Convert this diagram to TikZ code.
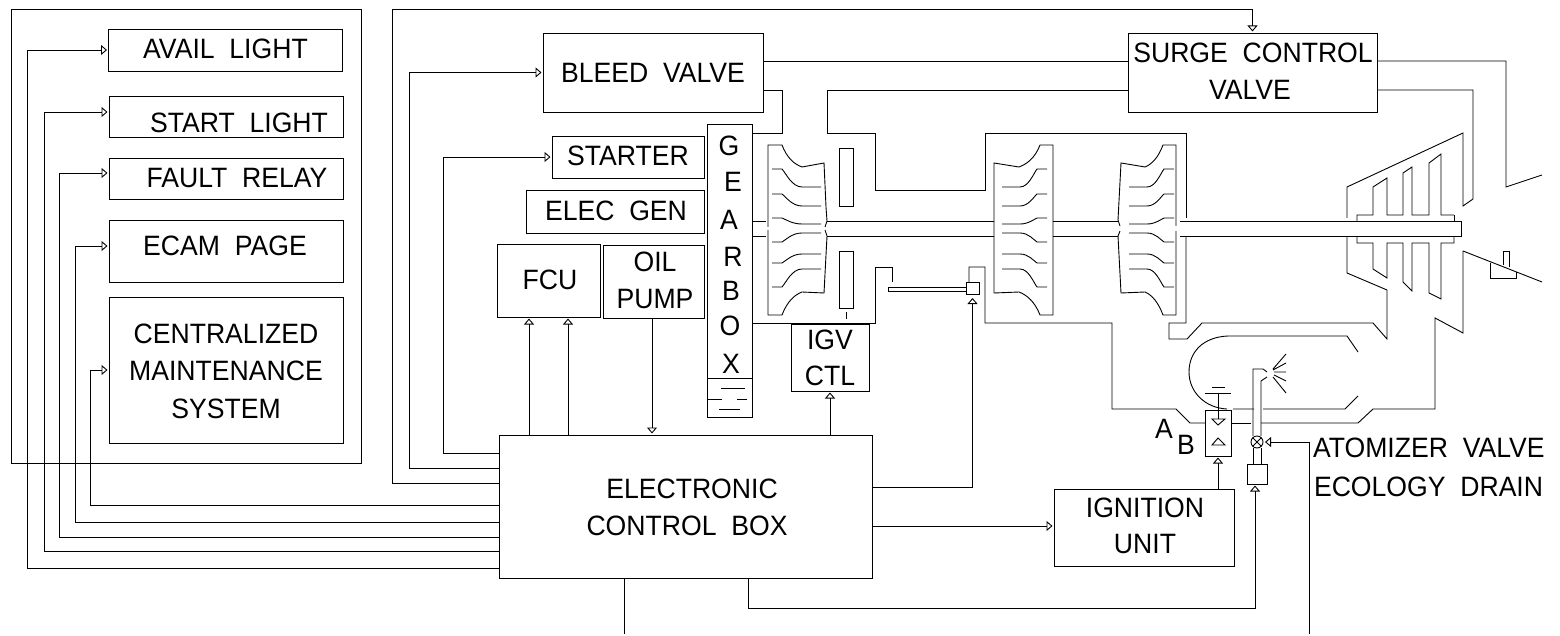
\documentclass[tikz,border=0pt]{standalone}
\usepackage{fontspec}
\setmainfont[FakeStretch=0.95]{Liberation Sans}
\usetikzlibrary{arrows.meta}
\tikzset{
  box/.style={draw,inner sep=0pt,outer sep=0pt},
  lab/.style={inner sep=0pt,outer sep=0pt,text height=20pt,text depth=0pt,font=\fontsize{28}{30}\selectfont},
  sig/.style={-{Triangle[open,length=6pt,width=10pt]},shorten >=1.5pt},
}
\begin{document}
\begin{tikzpicture}[x=1pt,y=-1pt,line width=0.9pt]
      \useasboundingbox (0,0) rectangle (1560,636);

      \node[box,minimum width=350,minimum height=454] (panel) at (186,236) {};
      \node[box,minimum width=234,minimum height=42] (avail) at (225.5,50) {};
      \node[box,minimum width=234,minimum height=41] (start) at (226,116.5) {};
      \node[box,minimum width=234,minimum height=41] (fault) at (226,178.5) {};
      \node[box,minimum width=234,minimum height=62] (ecam) at (226,251) {};
      \node[box,minimum width=234,minimum height=146] (cms) at (226,370) {};
      \node[box,minimum width=220,minimum height=79] (bleed) at (653,72.5) {};
      \node[box,minimum width=249,minimum height=79] (surge) at (1252.5,72.5) {};
      \node[box,minimum width=152,minimum height=42] (starter) at (628,157) {};
      \node[box,minimum width=178,minimum height=43] (elec) at (615,211.5) {};
      \node[box,minimum width=103,minimum height=73] (fcu) at (548.5,280.5) {};
      \node[box,minimum width=101,minimum height=73] (oil) at (653.5,281.5) {};
      \node[box,minimum width=45,minimum height=293] (gearbox) at (729.5,270.5) {};
      \node[box,minimum width=78,minimum height=67] (igv) at (830,357.5) {};
      \node[box,minimum width=373,minimum height=143] (ecb) at (685.5,506.5) {};
      \node[box,minimum width=180,minimum height=77] (ignition) at (1144,528) {};
      \node[box,minimum width=26,minimum height=46] (abbox) at (1218,433) {};
      \node[box,minimum width=20,minimum height=20] (drainbox) at (1257,474) {};
      \node[box,minimum width=13,minimum height=12] (act) at (972.5,288) {};
      \node[box,circle,minimum size=12] (valve) at (1257,442) {};

      \node[lab] (tavail) at (225.5,49) {AVAIL~~LIGHT};
      \node[lab] (tstart) at (239,123) {START~~LIGHT};
      \node[lab] (tfault) at (237,178) {FAULT~~RELAY};
      \node[lab] (tecam) at (225,246) {ECAM~~PAGE};
      \node[lab] (tcms) at (226,333) {CENTRALIZED};
      \node[lab] (tcmsb) at (226,370) {MAINTENANCE};
      \node[lab] (tcmsc) at (226,408) {SYSTEM};
      \node[lab] (tbleed) at (653,73) {BLEED~~VALVE};
      \node[lab] (tsurge) at (1253,53) {SURGE~~CONTROL};
      \node[lab] (tsurgeb) at (1250,90) {VALVE};
      \node[lab] (tstarter) at (628,156) {STARTER};
      \node[lab] (telec) at (616,211) {ELEC~~GEN};
      \node[lab] (tfcu) at (550,280) {FCU};
      \node[lab] (toil) at (655,262) {OIL};
      \node[lab] (toilb) at (655,298) {PUMP};
      \node[lab] (tg) at (729,146) {G};
      \node[lab] (te) at (733,182) {E};
      \node[lab] (ta) at (729,220) {A};
      \node[lab] (tr) at (733,256) {R};
      \node[lab] (tb) at (731,290) {B};
      \node[lab] (to) at (730,325) {O};
      \node[lab] (tx) at (731,363) {X};
      \node[lab] (tigv) at (830,339) {IGV};
      \node[lab] (tctl) at (830,375) {CTL};
      \node[lab] (tecb) at (692,488) {ELECTRONIC};
      \node[lab] (tecbb) at (687,525) {CONTROL~~BOX};
      \node[lab] (tign) at (1145,507) {IGNITION};
      \node[lab] (tignb) at (1145,543) {UNIT};
      \node[lab] (tatoma) at (1164,428) {A};
      \node[lab] (tatomb) at (1186,444) {B};
      \node[lab,anchor=west] (tatom) at (1313,447) {ATOMIZER~~VALVE};
      \node[lab,anchor=west] (tdrain) at (1314,486) {ECOLOGY~~DRAIN};

      \coordinate (oilend) at (624,634);
      \coordinate (atomend) at (1309,634);

      % outputs of the control box
      \draw[sig] (ecb.west |- 0,568) -| (27,50) -- (avail.west |- 0,50);
      \draw[sig] (ecb.west |- 0,551) -| (44,112) -- (start.west |- 0,112);
      \draw[sig] (ecb.west |- 0,537) -| (59,173) -- (fault.west |- 0,173);
      \draw[sig] (ecb.west |- 0,522) -| (75,246) -- (ecam.west |- 0,246);
      \draw[sig] (ecb.west |- 0,505) -| (90,370) -- (cms.west);
      \draw[sig] (ecb.west |- 0,483) -| (392,9) -| (surge.north);
      \draw[sig] (ecb.west |- 0,468) -| (409,72.5) -- (bleed.west);
      \draw[sig] (ecb.west |- 0,453) -| (443,157) -- (starter.west);
      \draw[sig] (ecb.north -| 529,0) -- (fcu.south -| 529,0);
      \draw[sig] (ecb.north -| 568,0) -- (fcu.south -| 568,0);
      \draw[sig] (oil.south -| 652,0) -- (ecb.north -| 652,0);
      \draw[sig] (ecb.north -| igv.south) -- (igv.south);
      \draw[sig,shorten >=4pt] (ecb.east |- 0,487) -| (act.south);
      \draw[sig] (ecb.east |- 0,526) -- (ignition.west |- 0,526);
      \draw[sig] (ignition.north -| abbox.south) -- (abbox.south);
      \draw[sig] (ecb.south -| 748,0) |- (1255,608) -- (drainbox.south -| 1255,0);
      \draw[sig,shorten >=2pt] (atomend) |- (valve.east);
      \draw (ecb.south -| oilend) -- (oilend);

      % air lines
      \draw (bleed.east |- 0,61) -- (surge.west |- 0,61);
      \draw (bleed.east |- 0,90) -| (782,133) -- (gearbox.east |- 0,133);
      \draw (surge.west |- 0,90) -| (827,133) -| (875,190) -| (985,133) -| (1186,218);
      \draw (surge.east |- 0,61) -| (1506,187) -- (1542,175);
      \draw (surge.east |- 0,90) -| (1473,199) -- (1463,206) -- (1463,133) -- (1347,187) -- (1347,218);

      % gearbox oil
      \draw (gearbox.west |- 0,378) -- (gearbox.east |- 0,378);
      \draw (721,388) -- (745,388) (708,399) -- (722,399) (737,399) -- (747,399) (719,409) -- (740,409);

      % casing
      \draw (gearbox.east |- 0,323) -- (875,323) -- (875,267) -- (892,267) -- (892,282);
      \draw (act.north -| 969,0) -- (969,267) -- (985,267) -- (985,323) -- (1112,323) -- (1112,409) -- (1176,409) -- (1190,423) -- (1205,423);
      \draw (1186,237) -- (1186,323) -- (1169,323) -- (1169,339) -- (1187,339) -- (1202,323) -- (1373,323) -- (1387,339) -- (1387,290) -- (1347,273) -- (1347,237);
      \draw (1463,251) -- (1463,333) -- (1435,318) -- (1435,409) -- (1373,409) -- (1358,423) -- (1261,423);
      \draw (1231,423) -- (1251,423);
      \draw (1463,251) -- (1542,282);
      \draw (1490,263) -- (1490,278) -- (1516,278) -- (1516,272);
      \draw (1503,265) -- (1503,251) -- (1509,251) -- (1509,267);
      \draw (888,287) rectangle (966,291);
      \draw (839,148) rectangle (853,206);
      \draw (839,251) rectangle (853,308);
      \draw (846,312) -- (846,319);

      % shaft
      \draw (gearbox.east |- 0,221) -- (766,221) (gearbox.east |- 0,236) -- (766,236);
      \draw (827,221) -- (994,221) (827,236) -- (994,236);
      \draw (1053,221) -- (1118,221) (1053,236) -- (1118,236);
      \draw (1180,221) -- (1461,221) -- (1461,236) -- (1180,236);

      % compressors
      \draw (768,227) -- (768,145) -- (782,145) .. controls (787,158) and (794,164) .. (802,167) -- (824,163) -- (826,207) -- (827,221) -- (825,227);
      \draw (768,230) -- (768,315) -- (782,315) .. controls (787,302) and (794,295) .. (802,292) -- (824,293) -- (827,236) -- (825,230);
      \draw (994,293) -- (994,163) -- (1019,167) .. controls (1027,164) and (1035,158) .. (1040,145) -- (1053,145) -- (1053,315) -- (1040,315) .. controls (1035,302) and (1027,295) .. (1019,292) -- cycle;
      \draw (1176,226) -- (1176,145) -- (1163,145) .. controls (1158,158) and (1152,164) .. (1145,167) -- (1121,163) -- (1118,220) -- (1120,226);
      \draw (1176,231) -- (1176,315) -- (1163,315) .. controls (1158,302) and (1152,295) .. (1145,292) -- (1121,293) -- (1118,236) -- (1120,231);
      \foreach \xa/\xb/\xc/\xd in {821/802/782/772,1002/1020/1037/1047,1129/1147/1164/1174}
        \foreach \ya/\yb in {187/169,206/194,224/218,233/242,254/263,269/287}
          \draw (\xa,\ya) -- (\xb,\ya) .. controls ({\xb+0.5*(\xc-\xb)},\ya) and ({\xc-0.2*(\xc-\xb)},{\yb+0.25*(\ya-\yb)}) .. (\xc,\yb) -- (\xd,\yb);

      % turbine
      \draw (1454,215) -- (1441,215) -- (1441,154) -- (1429,163) -- (1429,215) -- (1412,215) -- (1412,167) -- (1403,173) -- (1403,215) -- (1387,215) -- (1387,178) -- (1373,187) -- (1373,215) -- (1357,215) -- (1357,221);
      \draw (1357,236) -- (1357,243) -- (1373,243) -- (1373,269) -- (1387,278) -- (1387,243) -- (1403,243) -- (1403,282) -- (1412,291) -- (1412,243) -- (1429,243) -- (1429,293) -- (1441,299) -- (1441,243) -- (1454,243) -- (1454,236);
      \draw (1454,215) -- (1454,221);

      % combustor
      \draw (1228,336) -- (1347,336) -- (1358,352);
      \draw (1228,336) .. controls (1203,337) and (1189,352) .. (1189,372) .. controls (1189,392) and (1205,408) .. (1227,409);
      \draw (1233,409) -- (1254,409) (1263,409) -- (1345,409) -- (1358,396);

      % fuel nozzle
      \draw (1267,372) -- (1263,369) -- (1253,369) -- (valve.north -| 1253,0);
      \draw (1267,377) -- (1261,381) -- (valve.north -| 1261,0);
      \draw (valve.south -| 1253,0) -- (drainbox.north -| 1253,0);
      \draw (valve.south -| 1261,0) -- (drainbox.north -| 1261,0);
      \draw (valve.45) -- (valve.225) (valve.135) -- (valve.315);
      \draw (1273,369) -- (1286,354) (1273,370) -- (1286,363) (1274,372) -- (1286,372) (1274,375) -- (1286,381) (1273,377) -- (1286,393);
      \draw (1218,393) -- (1218,419);
      \draw (1205,393) -- (1231,393) (1212,387) -- (1225,387);
      \draw (1212,419) -- (1225,419) -- (1218,425) -- cycle;
      \draw (1212,445) -- (1225,445) -- (1218,438) -- cycle;
\end{tikzpicture}
\end{document}
